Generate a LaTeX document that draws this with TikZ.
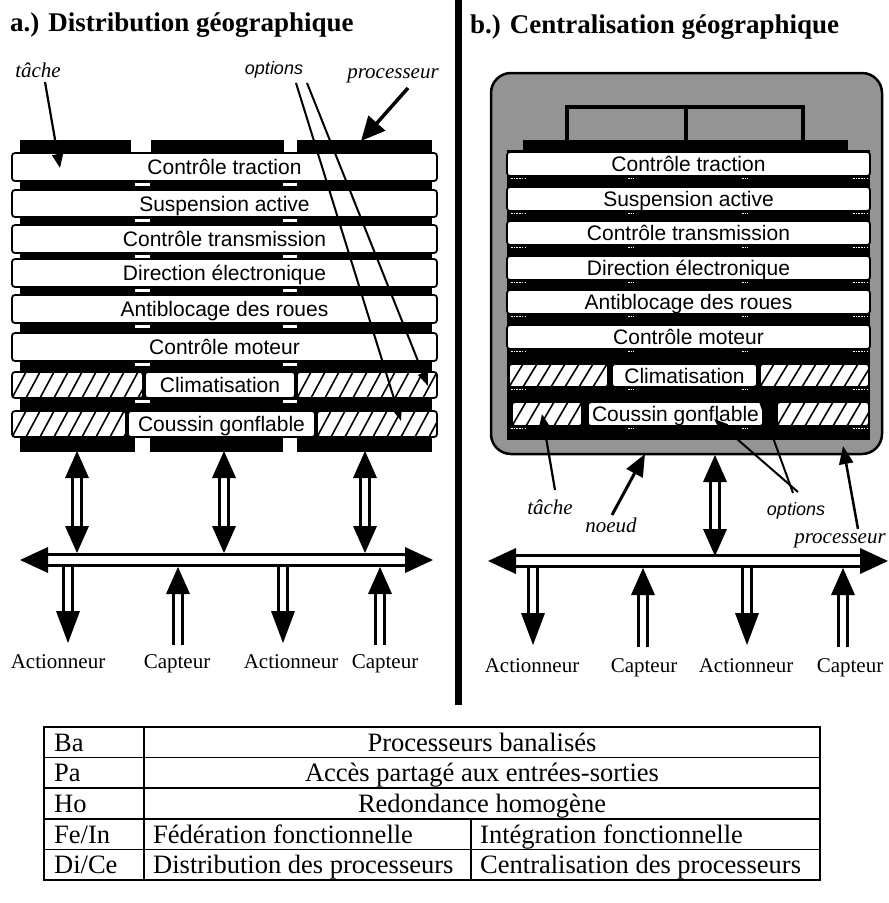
\documentclass[tikz,border=0pt]{standalone}
\usepackage{fontspec}
\setmainfont{Liberation Serif}
\newfontfamily\helv{Liberation Sans}
\usetikzlibrary{arrows.meta}

% hatched (optional) task cell: x1, y1, x2, y2
\newcommand{\hatchcell}[4]{%
  \begin{scope}
    \clip[rounded corners=3pt] (#1,#2) rectangle (#3,#4);
    \fill[white] (#1,#2) rectangle (#3,#4);
    \foreach \k in {0,...,12}
      \draw[line width=1.6pt] (#1+\k*14-14,#4) -- (#1+\k*14,#2);
  \end{scope}
  \draw[line width=1.8pt, rounded corners=3pt] (#1,#2) rectangle (#3,#4);}

% hollow double-headed vertical link: x, upper tip, lower tip
\newcommand{\dblV}[3]{%
  \draw[line width=2.2pt] (#1-4.5,#2+25) -- (#1-4.5,#3-25) (#1+4.5,#2+25) -- (#1+4.5,#3-25);
  \fill (#1,#2) -- (#1-12,#2+27) -- (#1+12,#2+27) -- cycle;
  \fill (#1,#3) -- (#1-12,#3-27) -- (#1+12,#3-27) -- cycle;}
% hollow arrow going down: x, shaft top, tip
\newcommand{\downV}[3]{%
  \draw[line width=2.2pt] (#1-4.5,#2) -- (#1-4.5,#3-30) (#1+4.5,#2) -- (#1+4.5,#3-30);
  \fill (#1,#3) -- (#1-12,#3-32) -- (#1+12,#3-32) -- cycle;}
% hollow arrow going up: x, tip, shaft bottom
\newcommand{\upV}[3]{%
  \draw[line width=2.2pt] (#1-4.5,#2+25) -- (#1-4.5,#3) (#1+4.5,#2+25) -- (#1+4.5,#3);
  \fill (#1,#2) -- (#1-12,#2+27) -- (#1+12,#2+27) -- cycle;}
% hollow horizontal bus: left tip, right tip, y
\newcommand{\busH}[3]{%
  \draw[line width=2.2pt] (#1+26,#3-5.5) -- (#2-26,#3-5.5) (#1+26,#3+5.5) -- (#2-26,#3+5.5);
  \fill (#1,#3) -- (#1+28,#3-13) -- (#1+28,#3+13) -- cycle;
  \fill (#2,#3) -- (#2-28,#3-13) -- (#2-28,#3+13) -- cycle;}

\begin{document}
\begin{tikzpicture}[x=1pt,y=-1pt]
\tikzset{
  taskbox/.style={draw=black, line width=1.8pt, fill=white, rounded corners=3pt,
    font=\helv\fontsize{21}{24}\selectfont, inner sep=0pt, text height=16pt, text depth=1pt},
  title/.style={font=\bfseries\fontsize{27}{32}\selectfont, anchor=west, inner sep=0pt},
  annot/.style={font=\itshape\fontsize{21}{24}\selectfont, inner sep=1pt},
  annotsans/.style={font=\helv\itshape\fontsize{18}{22}\selectfont, inner sep=1pt},
  iolabel/.style={font=\fontsize{21}{24}\selectfont, inner sep=0pt, text height=14pt, text depth=5pt},
  tabtext/.style={font=\fontsize{26.5}{30}\selectfont, inner sep=0pt, text height=20pt, text depth=2pt},
  pointer/.style={line width=2.2pt, -{Triangle[length=14pt,width=11pt]}},
  bigpointer/.style={line width=3.5pt, -{Triangle[length=24pt,width=22pt]}},
  midpointer/.style={line width=3pt, -{Triangle[length=22pt,width=18pt]}},
  optpointer/.style={line width=2pt, -{Triangle[length=14pt,width=10pt]}},
  marks/.style={white, line width=1.3pt, dash pattern=on 1.5pt off 1.2pt},
  tabline/.style={line width=1.6pt},
}
\useasboundingbox (0,0) rectangle (889,903);

% ---------- titles and separator ----------
\node[title] (ta) at (10,25) {a.) Distribution géographique};
\node[title] (tb) at (470,27) {b.) Centralisation géographique};
\draw[line width=7pt] (458,0) -- (458,705);

% ================= a) distributed =================
% three processors stacked behind the tasks
\fill (20,140) rectangle (432,452);
\fill[white] (131,139) rectangle (151,153);
\fill[white] (284,139) rectangle (297,153);
\fill[white] (135,438) rectangle (150,453);
\fill[white] (283,438) rectangle (297,453);
\foreach \yb in {181,217,253,287,323,361,398}{
  \fill[white] (135,\yb+1.5) rectangle (150,\yb+5);
  \fill[white] (283,\yb+1.5) rectangle (297,\yb+5);
}
% tasks
\node[taskbox, minimum width=425pt, minimum height=28pt] (a1) at (224.5,167) {Contrôle traction};
\node[taskbox, minimum width=425pt, minimum height=27pt] (a2) at (224.5,203.5) {Suspension active};
\node[taskbox, minimum width=425pt, minimum height=28pt] (a3) at (224.5,239) {Contrôle transmission};
\node[taskbox, minimum width=425pt, minimum height=28pt] (a4) at (224.5,273) {Direction électronique};
\node[taskbox, minimum width=425pt, minimum height=28pt] (a5) at (224.5,309) {Antiblocage des roues};
\node[taskbox, minimum width=425pt, minimum height=28pt] (a6) at (224.5,347) {Contrôle moteur};
\hatchcell{12}{372}{143}{398}
\node[taskbox, minimum width=150pt, minimum height=26pt] (a7) at (220,385) {Climatisation};
\hatchcell{297}{372}{437}{398}
\hatchcell{12}{411}{126}{437}
\node[taskbox, minimum width=187pt, minimum height=26pt] (a8) at (221.5,424) {Coussin gonflable};
\hatchcell{317}{411}{437}{437}

% annotations
\node[annot] (atache) at (38,70) {tâche};
\node[annotsans] (aopt) at (274,70) {options};
\node[annot] (aproc) at (393,76) {processeur};
\coordinate (atachetip) at (60,168);
\coordinate (aopttip1) at (401,421);
\coordinate (aopttip2) at (428,386);
\coordinate (aproctip) at (361,141);
\draw[pointer] (45,82) -- (atachetip);
\draw[optpointer] (296,83) -- (aopttip1);
\draw[optpointer] (307,83) -- (aopttip2);
\draw[bigpointer] (408,88) -- (aproctip);

% links to the bus
\dblV{77}{451}{553}
\dblV{224}{451}{553}
\dblV{365}{451}{553}
\downV{68}{566}{643}
\upV{178}{567}{645}
\downV{283}{566}{643}
\upV{380}{567}{645}
\busH{20}{433}{560}

\node[iolabel] (aact1) at (58,664) {Actionneur};
\node[iolabel] (acap1) at (177,664) {Capteur};
\node[iolabel] (aact2) at (291,664) {Actionneur};
\node[iolabel] (acap2) at (385,664) {Capteur};

% ================= b) centralised =================
\draw[line width=2.5pt, fill=black!42, rounded corners=20pt] (491,73) rectangle (882,454);
% shared processor
\draw[line width=4pt] (567,146) -- (567,107) -- (803,107) -- (803,146);
\draw[line width=4pt] (686,107) -- (686,146);
\fill (523,140) rectangle (848,153);
\fill (507,150) rectangle (870,440);
\foreach \yb in {176,211,245,280,314,349,387,426}{
  \draw[marks] (511,\yb+2.5) -- (525,\yb+2.5);
  \draw[marks] (628,\yb+2.5) -- (634,\yb+2.5);
  \draw[marks] (742,\yb+2.5) -- (748,\yb+2.5);
  \draw[marks] (853,\yb+2.5) -- (867,\yb+2.5);
}
\node[taskbox, minimum width=363pt, minimum height=24pt] (b1) at (688.5,164) {Contrôle traction};
\node[taskbox, minimum width=363pt, minimum height=24pt] (b2) at (688.5,199) {Suspension active};
\node[taskbox, minimum width=363pt, minimum height=24pt] (b3) at (688.5,233) {Contrôle transmission};
\node[taskbox, minimum width=363pt, minimum height=24pt] (b4) at (688.5,268) {Direction électronique};
\node[taskbox, minimum width=363pt, minimum height=24pt] (b5) at (688.5,302) {Antiblocage des roues};
\node[taskbox, minimum width=363pt, minimum height=24pt] (b6) at (688.5,337) {Contrôle moteur};
\hatchcell{509}{364}{608}{387}
\node[taskbox, minimum width=145pt, minimum height=23pt] (b7) at (684.5,375.5) {Climatisation};
\hatchcell{760}{364}{869}{387}
\hatchcell{512}{402}{582}{426}
\node[taskbox, minimum width=175pt, minimum height=24pt] (b8) at (675.5,414) {Coussin gonflable};
\hatchcell{777}{402}{869}{426}

% annotations
\node[annot] (btache) at (550,507) {tâche};
\node[annot] (bnoeud) at (611,525) {noeud};
\node[annotsans] (bopt) at (796,511) {options};
\node[annot] (bproc) at (840,541) {processeur};
\coordinate (btachetip) at (542,414);
\coordinate (bnoeudtip) at (645,454);
\coordinate (bopttip1) at (714,419);
\coordinate (bopttip2) at (754,385);
\coordinate (bproctip) at (843,446);
\draw[pointer] (555,490) -- (btachetip);
\draw[midpointer] (612,515) -- (bnoeudtip);
\draw[optpointer] (798,492) -- (bopttip1);
\draw[optpointer] (793,493) -- (bopttip2);
\draw[line width=2.5pt, -{Triangle[length=18pt,width=14pt]}] (858,529) -- (bproctip);

% link to the bus
\dblV{715}{455}{556}
\downV{533}{567}{645}
\upV{643}{568}{647}
\downV{747}{567}{645}
\upV{843}{568}{647}
\busH{488}{888}{561}

\node[iolabel] (bact1) at (532,668) {Actionneur};
\node[iolabel] (bcap1) at (644,668) {Capteur};
\node[iolabel] (bact2) at (746,668) {Actionneur};
\node[iolabel] (bcap2) at (850,668) {Capteur};

% ================= summary table =================
\draw[tabline] (44,727) rectangle (820,880);
\foreach \ry in {757.6,788.2,818.8,849.4}
  \draw[tabline] (44,\ry) -- (820,\ry);
\draw[tabline] (144,727) -- (144,880);
\draw[tabline] (471,818.8) -- (471,880);
\node[tabtext, anchor=west] (k1) at (54,742.3) {Ba};
\node[tabtext, anchor=west] (k2) at (54,772.9) {Pa};
\node[tabtext, anchor=west] (k3) at (54,803.5) {Ho};
\node[tabtext, anchor=west] (k4) at (54,834.1) {Fe/In};
\node[tabtext, anchor=west] (k5) at (54,864.7) {Di/Ce};
\node[tabtext] (v1) at (482,742.3) {Processeurs banalisés};
\node[tabtext] (v2) at (482,772.9) {Accès partagé aux entrées-sorties};
\node[tabtext] (v3) at (482,803.5) {Redondance homogène};
\node[tabtext, anchor=west] (v4a) at (153,834.1) {Fédération fonctionnelle};
\node[tabtext, anchor=west] (v4b) at (480,834.1) {Intégration fonctionnelle};
\node[tabtext, anchor=west] (v5a) at (153,864.7) {Distribution des processeurs};
\node[tabtext, anchor=west] (v5b) at (480,864.7) {Centralisation des processeurs};
\end{tikzpicture}
\end{document}
